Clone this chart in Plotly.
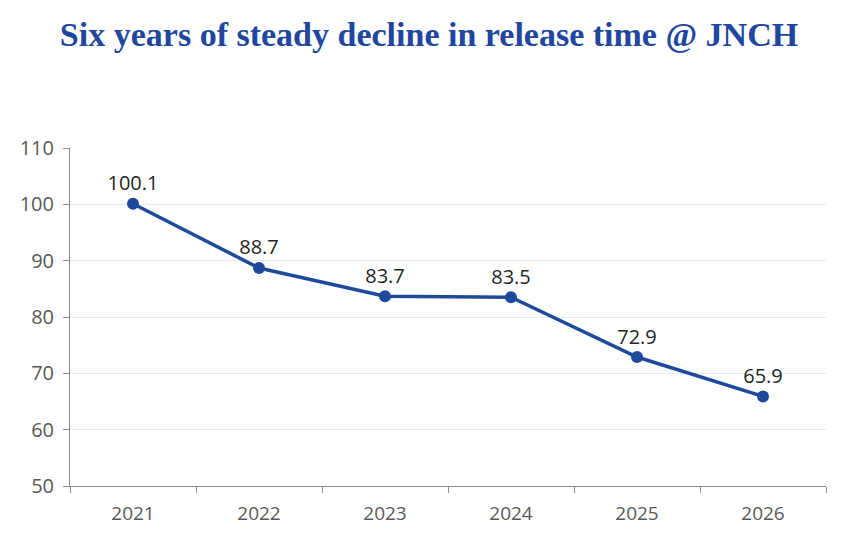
import plotly.graph_objects as go

years = ["2021", "2022", "2023", "2024", "2025", "2026"]
release_time = [100.1, 88.7, 83.7, 83.5, 72.9, 65.9]
y_ticks = [50, 60, 70, 80, 90, 100, 110]

blue = "#1F4A9C"

fig = go.Figure(go.Scatter(
    x=years, y=release_time,
    mode="lines+markers+text",
    line=dict(color=blue, width=3.5),
    marker=dict(color=blue, size=12),
    text=[f"{v:.1f}" for v in release_time],
    textposition="top center",
    textfont=dict(family="Open Sans", size=20, color="#262626"),
    cliponaxis=False,
    hoverinfo="x+y",
))

fig.update_layout(
    width=842, height=546,
    margin=dict(l=62, r=24, t=140, b=68),
    paper_bgcolor="white", plot_bgcolor="white",
    showlegend=False,
    title=dict(
        text="<b>Six years of steady decline in release time @ JNCH</b>",
        x=0.5, xanchor="center", y=0.952, yanchor="middle",
        font=dict(family="Liberation Serif", size=34, color="#2046A0"),
    ),
)

fig.update_xaxes(
    type="category", range=[-0.5, 5.5],
    tickson="boundaries", ticks="outside", ticklen=6, tickcolor="#8c8c8c",
    showline=True, linecolor="#8c8c8c", linewidth=1,
    showgrid=False, ticklabelstandoff=10,
    tickfont=dict(family="Open Sans", size=19, color="#595959"),
)
fig.update_yaxes(
    range=[50, 110], tickvals=y_ticks,
    ticks="outside", ticklen=6, tickcolor="#8c8c8c",
    showline=True, linecolor="#8c8c8c", linewidth=1,
    showgrid=True, gridcolor="#e3e8f2", gridwidth=1,
    zeroline=False, ticklabelstandoff=5,
    tickfont=dict(family="Open Sans", size=20, color="#595959"),
)

fig.write_html("out.html")
